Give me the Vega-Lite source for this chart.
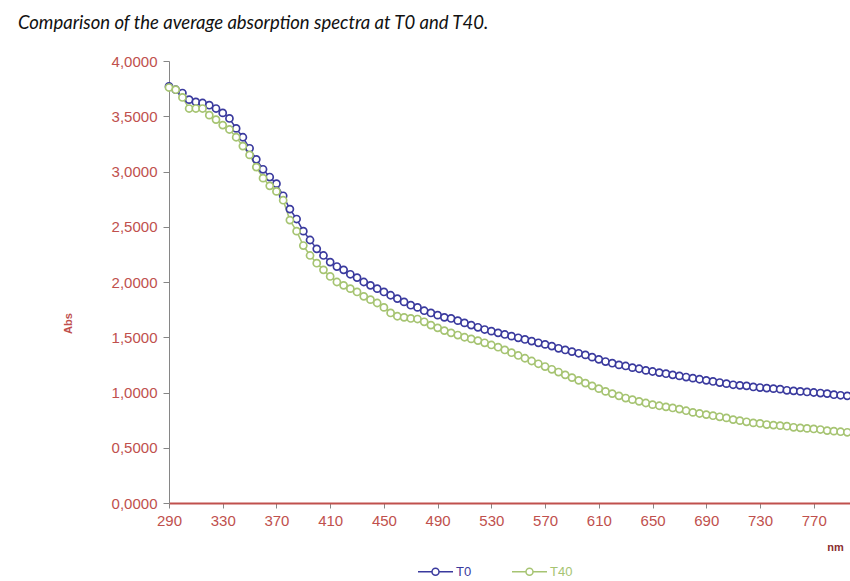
{
  "$schema": "https://vega.github.io/schema/vega-lite/v6.json",
  "autosize": "none",
  "width": 681,
  "height": 442,
  "padding": {"left": 169, "top": 61, "right": 0, "bottom": 78},
  "background": "white",
  "title": {
    "text": "Comparison of the average absorption spectra at T0 and T40.",
    "anchor": "start",
    "frame": "group",
    "font": "Lato",
    "fontStyle": "italic",
    "fontWeight": "normal",
    "fontSize": 18.5,
    "color": "#111111",
    "baseline": "alphabetic",
    "offset": 24,
    "dx": -151,
    "dy": 17
  },
  "config": {"view": {"stroke": null}, "font": "Liberation Sans"},
  "data": {
    "values": [
      {"nm":290,"T0":3.77,"T40":3.76},{"nm":295,"T0":3.74,"T40":3.74},{"nm":300,"T0":3.71,"T40":3.67},{"nm":305,"T0":3.65,"T40":3.57},
      {"nm":310,"T0":3.63,"T40":3.57},{"nm":315,"T0":3.62,"T40":3.57},{"nm":320,"T0":3.60,"T40":3.51},{"nm":325,"T0":3.57,"T40":3.47},
      {"nm":330,"T0":3.53,"T40":3.42},{"nm":335,"T0":3.48,"T40":3.38},{"nm":340,"T0":3.39,"T40":3.31},{"nm":345,"T0":3.31,"T40":3.23},
      {"nm":350,"T0":3.21,"T40":3.15},{"nm":355,"T0":3.11,"T40":3.04},{"nm":360,"T0":3.02,"T40":2.94},{"nm":365,"T0":2.95,"T40":2.87},
      {"nm":370,"T0":2.89,"T40":2.82},{"nm":375,"T0":2.78,"T40":2.74},{"nm":380,"T0":2.66,"T40":2.56},{"nm":385,"T0":2.57,"T40":2.46},
      {"nm":390,"T0":2.46,"T40":2.33},{"nm":395,"T0":2.38,"T40":2.24},{"nm":400,"T0":2.30,"T40":2.17},{"nm":405,"T0":2.24,"T40":2.11},
      {"nm":410,"T0":2.18,"T40":2.05},{"nm":415,"T0":2.14,"T40":2.00},{"nm":420,"T0":2.11,"T40":1.97},{"nm":425,"T0":2.07,"T40":1.94},
      {"nm":430,"T0":2.04,"T40":1.91},{"nm":435,"T0":2.00,"T40":1.87},{"nm":440,"T0":1.97,"T40":1.84},{"nm":445,"T0":1.94,"T40":1.81},
      {"nm":450,"T0":1.91,"T40":1.77},{"nm":455,"T0":1.88,"T40":1.72},{"nm":460,"T0":1.85,"T40":1.69},{"nm":465,"T0":1.82,"T40":1.68},
      {"nm":470,"T0":1.79,"T40":1.67},{"nm":475,"T0":1.77,"T40":1.665},{"nm":480,"T0":1.74,"T40":1.64},{"nm":485,"T0":1.72,"T40":1.61},
      {"nm":490,"T0":1.70,"T40":1.585},{"nm":495,"T0":1.68,"T40":1.56},{"nm":500,"T0":1.67,"T40":1.54},{"nm":505,"T0":1.65,"T40":1.52},
      {"nm":510,"T0":1.63,"T40":1.50},{"nm":515,"T0":1.61,"T40":1.485},{"nm":520,"T0":1.59,"T40":1.47},{"nm":525,"T0":1.57,"T40":1.45},
      {"nm":530,"T0":1.555,"T40":1.43},{"nm":535,"T0":1.54,"T40":1.41},{"nm":540,"T0":1.525,"T40":1.385},{"nm":545,"T0":1.51,"T40":1.36},
      {"nm":550,"T0":1.495,"T40":1.335},{"nm":555,"T0":1.48,"T40":1.31},{"nm":560,"T0":1.465,"T40":1.285},{"nm":565,"T0":1.45,"T40":1.26},
      {"nm":570,"T0":1.435,"T40":1.235},{"nm":575,"T0":1.42,"T40":1.21},{"nm":580,"T0":1.40,"T40":1.185},{"nm":585,"T0":1.385,"T40":1.16},
      {"nm":590,"T0":1.37,"T40":1.135},{"nm":595,"T0":1.355,"T40":1.11},{"nm":600,"T0":1.34,"T40":1.085},{"nm":605,"T0":1.32,"T40":1.06},
      {"nm":610,"T0":1.30,"T40":1.035},{"nm":615,"T0":1.28,"T40":1.01},{"nm":620,"T0":1.265,"T40":0.99},{"nm":625,"T0":1.25,"T40":0.97},
      {"nm":630,"T0":1.24,"T40":0.95},{"nm":635,"T0":1.225,"T40":0.935},{"nm":640,"T0":1.215,"T40":0.92},{"nm":645,"T0":1.20,"T40":0.905},
      {"nm":650,"T0":1.19,"T40":0.89},{"nm":655,"T0":1.18,"T40":0.88},{"nm":660,"T0":1.17,"T40":0.87},{"nm":665,"T0":1.16,"T40":0.86},
      {"nm":670,"T0":1.15,"T40":0.85},{"nm":675,"T0":1.14,"T40":0.835},{"nm":680,"T0":1.13,"T40":0.82},{"nm":685,"T0":1.12,"T40":0.81},
      {"nm":690,"T0":1.11,"T40":0.80},{"nm":695,"T0":1.10,"T40":0.79},{"nm":700,"T0":1.09,"T40":0.78},{"nm":705,"T0":1.08,"T40":0.77},
      {"nm":710,"T0":1.07,"T40":0.755},{"nm":715,"T0":1.065,"T40":0.745},{"nm":720,"T0":1.06,"T40":0.735},{"nm":725,"T0":1.05,"T40":0.725},
      {"nm":730,"T0":1.045,"T40":0.72},{"nm":735,"T0":1.04,"T40":0.71},{"nm":740,"T0":1.035,"T40":0.705},{"nm":745,"T0":1.03,"T40":0.70},
      {"nm":750,"T0":1.02,"T40":0.695},{"nm":755,"T0":1.015,"T40":0.685},{"nm":760,"T0":1.01,"T40":0.68},{"nm":765,"T0":1.005,"T40":0.675},
      {"nm":770,"T0":1.00,"T40":0.67},{"nm":775,"T0":0.995,"T40":0.665},{"nm":780,"T0":0.99,"T40":0.655},{"nm":785,"T0":0.98,"T40":0.65},
      {"nm":790,"T0":0.975,"T40":0.645},{"nm":795,"T0":0.97,"T40":0.64}
    ]
  },
  "transform": [{"fold": ["T0", "T40"], "as": ["series", "abs"]}],
  "encoding": {
    "x": {
      "field": "nm", "type": "quantitative",
      "scale": {"domain": [290, 797], "nice": false, "zero": false},
      "axis": {
        "values": [290,330,370,410,450,490,530,570,610,650,690,730,770],
        "grid": false,
        "labelColor": "#c0504d", "labelFontSize": 15, "labelFont": "Liberation Sans",
        "labelPadding": 5, "labelFlush": false,
        "domainColor": "#c0504d", "domainWidth": 2,
        "tickColor": "#868686", "tickSize": 5,
        "title": "nm", "titleColor": "#8b3030", "titleFontSize": 11, "titleFontWeight": "bold",
        "titleX": 666, "titleY": 44, "titleAlign": "center", "titleBaseline": "middle"
      }
    },
    "y": {
      "field": "abs", "type": "quantitative",
      "scale": {"domain": [0, 4], "nice": false},
      "axis": {
        "values": [0,0.5,1,1.5,2,2.5,3,3.5,4],
        "labelExpr": "replace(format(datum.value,'.4f'),'.',',')",
        "grid": false,
        "labelColor": "#c0504d", "labelFontSize": 15, "labelFont": "Liberation Sans",
        "labelPadding": 6,
        "domainColor": "#868686", "tickColor": "#868686", "tickSize": 6,
        "title": "Abs", "titleColor": "#c0504d", "titleFontSize": 11, "titleFontWeight": "bold",
        "titleX": -101, "titleY": 262, "titleAngle": -90, "titleAlign": "center", "titleBaseline": "middle"
      }
    },
    "color": {
      "field": "series", "type": "nominal",
      "scale": {"domain": ["T0", "T40"], "range": ["#3a3a9e", "#a6c472"]},
      "legend": {
        "title": null,
        "orient": "none",
        "legendX": 248,
        "legendY": 492,
        "direction": "horizontal",
        "symbolType": "M-1,0L-0.2,0M0.2,0L1,0M-0.2,0A0.2,0.2,0,1,1,0.2,0A0.2,0.2,0,1,1,-0.2,0",
        "symbolSize": 1225,
        "symbolStrokeWidth": 1.5,
        "symbolFillColor": "white",
        "labelFontSize": 13,
        "labelOffset": 2,
        "columnPadding": 37,
        "labelColor": {"expr": "datum.value == 'T0' ? '#3a3a9e' : '#a6c472'"}
      }
    }
  },
  "layer": [
    {"mark": {"type": "line", "strokeWidth": 1.5}},
    {
      "mark": {"type": "point", "shape": "circle", "filled": false, "fill": "white", "fillOpacity": 1, "size": 50, "strokeWidth": 1.7, "opacity": 1},
      "encoding": {"order": {"field": "series"}}
    }
  ]
}
